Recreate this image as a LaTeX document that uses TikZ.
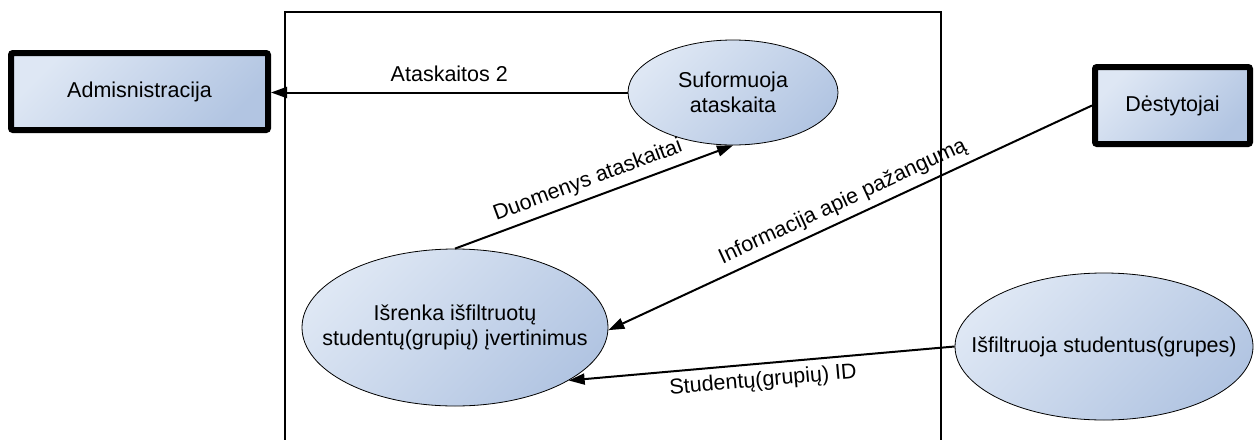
\documentclass[tikz,border=0pt]{standalone}
\usepackage{fontspec}
\setmainfont{Liberation Sans}
\usetikzlibrary{shapes.geometric,arrows.meta}
\definecolor{fillA}{RGB}{222,231,244}
\definecolor{fillB}{RGB}{178,197,226}
\begin{document}
\begin{tikzpicture}[x=1pt,y=-1pt,
  lbl/.style={font=\fontsize{21.5}{24.5}\selectfont},
  grad/.style={top color=fillA,bottom color=fillB,shading angle=45},
  actor/.style={draw,line width=6pt,rounded corners=2pt,grad,lbl,minimum height=77pt,inner sep=0pt},
  proc/.style={ellipse,draw,line width=0.8pt,grad,inner sep=0pt},
  caption/.style={label={[lbl,align=center]center:#1}},
  flow/.style={line width=2pt,-{Triangle[length=16pt,width=11pt]}},
  flowlbl/.style={lbl,midway,sloped}]
\useasboundingbox (0,0) rectangle (1258,439);
% system boundary
\begin{scope}
  \clip (0,0) rectangle (1258,439);
  \draw[line width=2pt] (285,12) rectangle (941,470);
\end{scope}
% external entities
\node[actor,minimum width=257pt] (adm) at (139.5,91.5) {Admisnistracija};
\node[actor,minimum width=155pt] (dest) at (1172.5,105.5) {Dėstytojai};
% processes (fixed ellipse sizes, text laid on top)
\node[proc,minimum width=210pt,minimum height=105pt,
  caption={Suformuoja\\ataskaita}] (suf) at (733,92.5) {};
\node[proc,minimum width=306pt,minimum height=157pt,
  caption={Išrenka išfiltruotų\\studentų(grupių) įvertinimus}] (isr) at (455,327.5) {};
\node[proc,minimum width=298pt,minimum height=147pt,
  caption={Išfiltruoja studentus(grupes)}] (isf) at (1104,346.5) {};
% data flows
\draw[flow] (suf.west) -- (adm.east |- suf.west)
  node[flowlbl,above=6pt] {Ataskaitos 2};
\draw[flow] (isr.north) -- (suf.south)
  node[flowlbl,above=3pt] {Duomenys ataskaitai};
\draw[flow] (dest.west) -- (isr.-1)
  node[flowlbl,above=3pt] {Informacija apie pažangumą};
\draw[flow] (isf.west) -- (isr.-25)
  node[flowlbl,below=3pt] {Studentų(grupių) ID};
\end{tikzpicture}
\end{document}
